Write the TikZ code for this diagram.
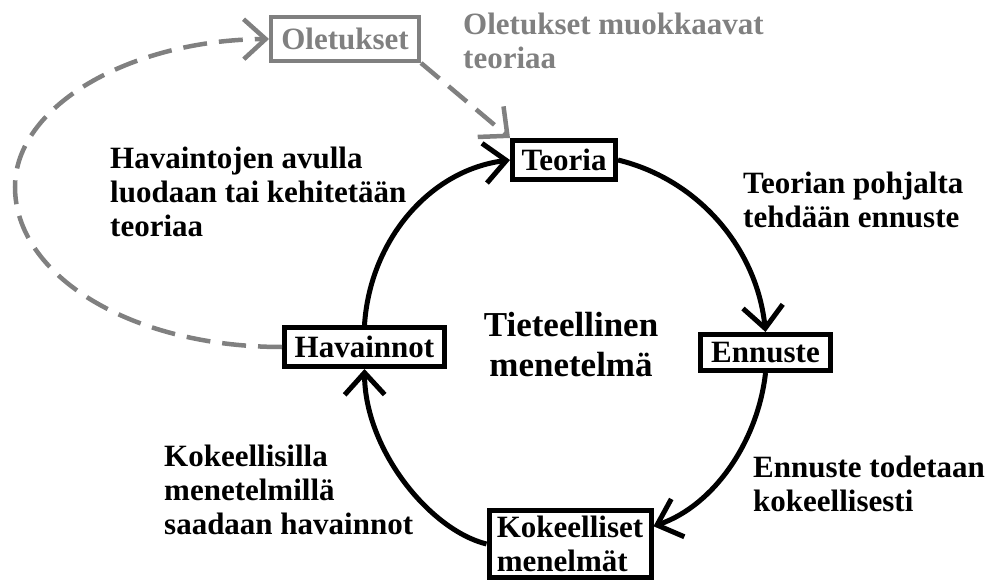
\documentclass[tikz,border=0pt]{standalone}
\usepackage{fontspec}
\setmainfont{Liberation Serif}
\usetikzlibrary{arrows.meta}
\definecolor{lgray}{RGB}{128,128,128}
\begin{document}
\begin{tikzpicture}[x=1pt,y=-1pt,
  txt/.style={font=\fontsize{31}{34}\selectfont\bfseries, inner sep=0pt, align=left, anchor=north west},
  box/.style={draw, line width=5pt, font=\fontsize{31}{34}\selectfont\bfseries, inner sep=0pt},
  vtip/.style={-{Straight Barb[length=22pt,width=40pt]}},
  flow/.style={vtip, line width=5pt},
  gflow/.style={vtip, line width=4.5pt, lgray, dash pattern=on 24pt off 12pt}]
\useasboundingbox (0,0) rectangle (990,580);
% boxes
\node[box, minimum width=103pt, minimum height=39pt] (teoria) at (564,160) {Teoria};
\node[box, minimum width=130pt, minimum height=36pt] (ennuste) at (765.5,352.5) {Ennuste};
\node[box, minimum width=160pt, minimum height=39pt] (hav) at (364.5,347) {Havainnot};
\node[box, minimum width=162pt, minimum height=67pt, align=left] (kok) at (570,544) {Kokeelliset\\menelmät};
\node[box, lgray, line width=4pt, minimum width=148pt, minimum height=44pt] (olet) at (345,39) {Oletukset};
% texts
\node[txt, lgray] (tolet) at (463,13) {Oletukset muokkaavat\\teoriaa};
\node[txt] (thav) at (110,147) {Havaintojen avulla\\luodaan tai kehitetään\\teoriaa};
\node[txt] (tteo) at (743,172) {Teorian pohjalta\\tehdään ennuste};
\node[txt] (tenn) at (753,456) {Ennuste todetaan\\kokeellisesti};
\node[txt] (tkok) at (164,445) {Kokeellisilla\\menetelmillä\\saadaan havainnot};
\node[txt, font=\fontsize{35}{40}\selectfont\bfseries, align=center, anchor=north] (tmid) at (571,312) {Tieteellinen\\menetelmä};
% cycle
\draw[flow] (teoria.east) .. controls (700,180) and (757,250) .. (ennuste.north);
\draw[flow] (ennuste.south) .. controls (758,440) and (715,505) .. (kok.12);
\draw[flow] (kok.west) .. controls (430,530) and (365,450) .. (hav.south);
\draw[flow] (hav.north) .. controls (370,240) and (430,170) .. (teoria.west);
% gray dashed
\draw[gflow] (hav.west) .. controls (130,347) and (15,275) .. (15,187) .. controls (15,106) and (130,40) .. (olet.west);
\draw[gflow] (olet.south east) -- (teoria.north west);
\end{tikzpicture}
\end{document}
